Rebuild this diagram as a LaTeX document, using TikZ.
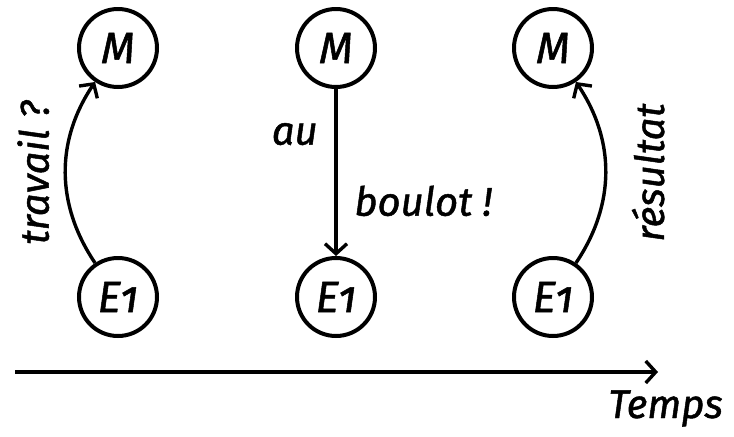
\documentclass[tikz,border=0pt]{standalone}
\usepackage{fontspec}
\setmainfont{Fira Sans}[Numbers=OldStyle, ItalicFeatures={FakeBold=1.2}]
\usetikzlibrary{arrows.meta, positioning}
\tikzset{
    agent/.style={circle, draw, line width=2pt, minimum size=39pt, inner sep=0pt, font=\fontsize{22}{24}\selectfont\itshape},
    msg/.style={draw, line width=1.7pt, -{Straight Barb[length=5pt, width=11pt, line width=1.7pt]}},
    lbl/.style={font=\fontsize{20}{24}\selectfont\itshape},
}

\begin{document}
\begin{tikzpicture}[x=0.5pt, y=0.5pt]
    \useasboundingbox (0,0) rectangle (734,436);

    % Step 1: master asks
    \node[agent] (m1) at (118, 388) {M};
    \node[agent] (e1) at (118, 139) {E1};
    \draw[msg] (e1) to[bend left=34]
        node[midway, above=4pt, sloped, lbl] {travail ?} (m1);

    % Step 2: master sends work
    \node[agent] (m2) at (336, 388) {M};
    \node[agent] (e2) at (336, 139) {E1};
    \draw[msg] (m2) -- node[pos=0.27, left=5pt, lbl] {au}
        node[pos=0.67, right=5pt, lbl] {boulot !} (e2);

    % Step 3: worker replies
    \node[agent] (m3) at (553, 388) {M};
    \node[agent] (e3) at (553, 139) {E1};
    \draw[msg] (e3) to[bend right=34]
        node[midway, below=9pt, sloped, lbl] {résultat} (m3);

    % Time axis
    \coordinate (t0) at (15, 64);
    \coordinate (t1) at (658, 64);
    \draw[msg, line width=2pt] (t0) -- (t1);
    \node[lbl, anchor=base west, inner sep=0pt] (temps) at (608, 18) {Temps};
\end{tikzpicture}
\end{document}
